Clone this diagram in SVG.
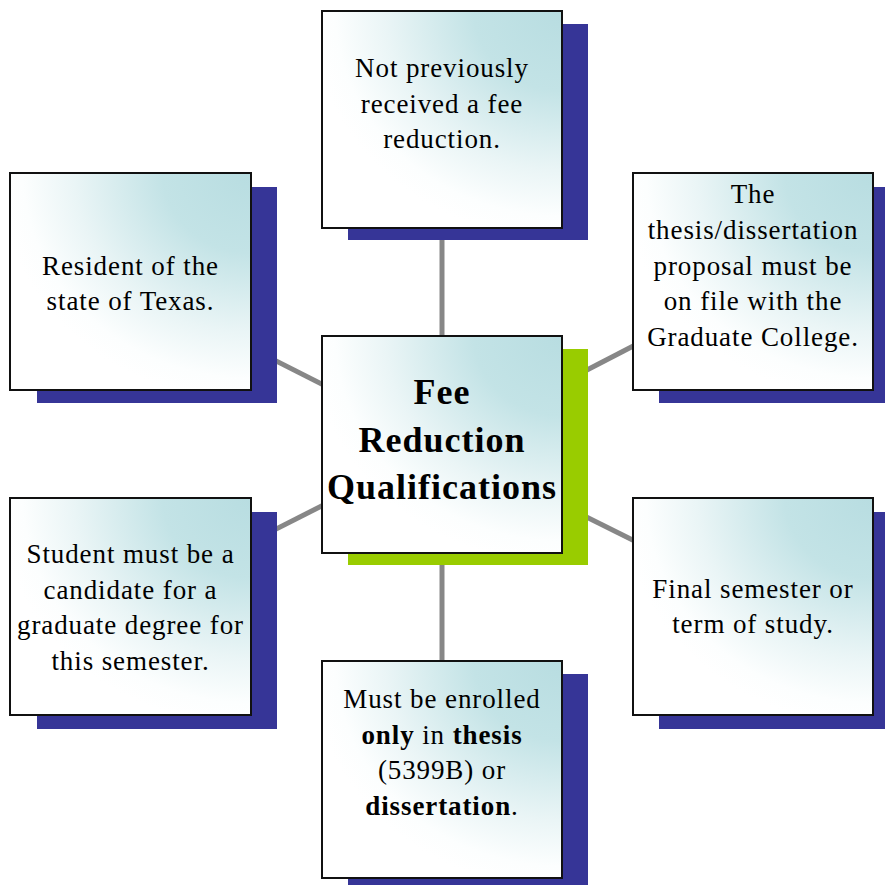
<svg xmlns="http://www.w3.org/2000/svg" width="885" height="885" viewBox="0 0 885 885">
<defs>
<radialGradient id="g" cx="1" cy="0" r="1.05" fx="1" fy="0">
<stop offset="0" stop-color="#b8dde1"/>
<stop offset="0.35" stop-color="#c3e3e6"/>
<stop offset="0.7" stop-color="#eaf5f6"/>
<stop offset="0.9" stop-color="#fcfefe"/>
<stop offset="1" stop-color="#ffffff"/>
</radialGradient>
<style>
.sh{fill:#363597}
.shc{fill:#99cc00}
.bx{fill:url(#g);stroke:#111;stroke-width:2}
.t{font-family:"Liberation Serif","Times New Roman",serif;font-size:27px;letter-spacing:0.9px;fill:#000;text-anchor:middle}
.c{font-family:"Liberation Serif","Times New Roman",serif;font-size:36px;font-weight:bold;letter-spacing:1px;fill:#000;text-anchor:middle}
.b{font-weight:bold}
.ln{stroke:#878787;stroke-width:5;fill:none}
</style>
</defs>
<rect width="885" height="885" fill="#ffffff"/>
<g id="connectors">
<line class="ln" x1="442" y1="445" x2="442" y2="120"/>
<line class="ln" x1="442" y1="445" x2="442" y2="770"/>
<line class="ln" x1="442" y1="445" x2="130" y2="287"/>
<line class="ln" x1="442" y1="445" x2="130" y2="603"/>
<line class="ln" x1="442" y1="445" x2="753" y2="284"/>
<line class="ln" x1="442" y1="445" x2="753" y2="600"/>
</g>
<g id="node-top">
<rect class="sh" x="348" y="24" width="240" height="216"/>
<rect class="bx" x="322" y="11" width="240" height="217"/>
<text class="t" x="442" y="77">Not previously</text>
<text class="t" x="442" y="112.5">received a fee</text>
<text class="t" x="442" y="148">reduction.</text>
</g>
<g id="node-top-left">
<rect class="sh" x="37" y="187" width="240" height="216"/>
<rect class="bx" x="10" y="173" width="241" height="217"/>
<text class="t" x="130.5" y="275">Resident of the</text>
<text class="t" x="130.5" y="310">state of Texas.</text>
</g>
<g id="node-top-right">
<rect class="sh" x="659" y="187" width="240" height="216"/>
<rect class="bx" x="633" y="173" width="240" height="217"/>
<text class="t" x="753" y="202.5">The</text>
<text class="t" x="753" y="238.5">thesis/dissertation</text>
<text class="t" x="753" y="274.5">proposal must be</text>
<text class="t" x="753" y="310">on file with the</text>
<text class="t" x="753" y="345.5">Graduate College.</text>
</g>
<g id="node-bottom-left">
<rect class="sh" x="37" y="512" width="240" height="217"/>
<rect class="bx" x="10" y="498" width="241" height="217"/>
<text class="t" x="130.5" y="563">Student must be a</text>
<text class="t" x="130.5" y="598.5">candidate for a</text>
<text class="t" x="130.5" y="634">graduate degree for</text>
<text class="t" x="130.5" y="669.5">this semester.</text>
</g>
<g id="node-bottom-right">
<rect class="sh" x="659" y="512" width="240" height="217"/>
<rect class="bx" x="633" y="498" width="240" height="217"/>
<text class="t" x="753" y="598">Final semester or</text>
<text class="t" x="753" y="633">term of study.</text>
</g>
<g id="node-bottom">
<rect class="sh" x="348" y="674" width="240" height="216"/>
<rect class="bx" x="322" y="661" width="240" height="217"/>
<text class="t" x="442" y="708">Must be enrolled</text>
<text class="t" x="442" y="743.5"><tspan class="b">only</tspan> in <tspan class="b">thesis</tspan></text>
<text class="t" x="442" y="779">(5399B) or</text>
<text class="t" x="442" y="814.5"><tspan class="b">dissertation</tspan>.</text>
</g>
<g id="node-center">
<rect class="shc" x="348" y="349" width="240" height="216"/>
<rect class="bx" x="322" y="336" width="240" height="217"/>
<text class="c" x="442" y="404">Fee</text>
<text class="c" x="442" y="452">Reduction</text>
<text class="c" x="442" y="499">Qualifications</text>
</g>
</svg>
